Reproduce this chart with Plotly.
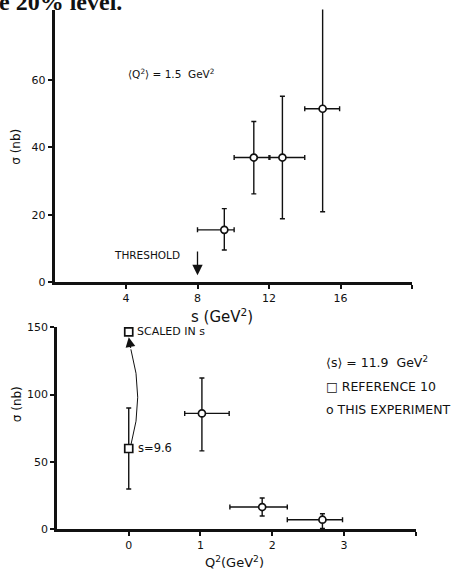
import plotly.graph_objects as go

# ---------------- data ----------------
# top panel: sigma vs s at <Q^2> = 1.5 GeV^2
s_vals = [9.5, 11.15, 12.75, 15.0]
s_sigma = [15.5, 37.0, 37.0, 51.5]
s_sigma_err_plus = [6.3, 10.7, 18.2, 30.5]
s_sigma_err_minus = [6.0, 10.8, 18.2, 30.6]
s_err_minus = [1.5, 1.1, 0.75, 1.0]
s_err_plus = [0.55, 0.9, 1.25, 0.95]
threshold_s = 8.0

# bottom panel: sigma vs Q^2 at <s> = 11.9 GeV^2
q2_vals = [1.02, 1.86, 2.70]
q2_sigma = [86.0, 16.6, 7.2]
q2_sigma_err_plus = [26.3, 6.7, 4.4]
q2_sigma_err_minus = [27.8, 6.7, 6.5]
q2_err_minus = [0.24, 0.45, 0.49]
q2_err_plus = [0.38, 0.35, 0.28]

ref10_q2 = [0.0]
ref10_sigma = [60.0]
ref10_err = [30.0]
ref10_scaled_q2 = [0.0]
ref10_scaled_sigma = [146.5]

top_xticks = [4, 8, 12, 16, 20]
top_xtick_text = ["4", "8", "12", "16", ""]
top_yticks = [0, 20, 40, 60]
bot_xticks = [0, 1, 2, 3, 4]
bot_xtick_text = ["0", "1", "2", "3", ""]
bot_yticks = [0, 50, 100, 150]

FONT = "DejaVu Sans"
BLACK = "#111111"
W, H = 458, 571

# the rendered page is placed ~6.5px down and squeezed vertically by ~0.9755;
# convert a target vertical pixel position into paper coordinates accordingly
OFF, SC = 6.5, 0.9755


def py(pix):
    return 1 - ((pix - OFF) / SC) / H


fig = go.Figure()
err_style = dict(color=BLACK, thickness=1.4, width=2.5)

fig.add_trace(go.Scatter(
    x=s_vals, y=s_sigma, mode="markers", xaxis="x", yaxis="y",
    marker=dict(symbol="circle", size=7, color="white", line=dict(color=BLACK, width=1.7)),
    error_y=dict(type="data", symmetric=False, array=s_sigma_err_plus,
                 arrayminus=s_sigma_err_minus, **err_style),
    error_x=dict(type="data", symmetric=False, array=s_err_plus,
                 arrayminus=s_err_minus, **err_style),
    cliponaxis=False, showlegend=False))

fig.add_trace(go.Scatter(
    x=q2_vals, y=q2_sigma, mode="markers", xaxis="x2", yaxis="y2",
    marker=dict(symbol="circle", size=7, color="white", line=dict(color=BLACK, width=1.7)),
    error_y=dict(type="data", symmetric=False, array=q2_sigma_err_plus,
                 arrayminus=q2_sigma_err_minus, **err_style),
    error_x=dict(type="data", symmetric=False, array=q2_err_plus,
                 arrayminus=q2_err_minus, **err_style),
    cliponaxis=False, showlegend=False))

fig.add_trace(go.Scatter(
    x=ref10_q2, y=ref10_sigma, mode="markers", xaxis="x2", yaxis="y2",
    marker=dict(symbol="square", size=8, color="white", line=dict(color=BLACK, width=1.7)),
    error_y=dict(type="data", array=ref10_err, **err_style),
    cliponaxis=False, showlegend=False))

fig.add_trace(go.Scatter(
    x=ref10_scaled_q2, y=ref10_scaled_sigma, mode="markers", xaxis="x2", yaxis="y2",
    marker=dict(symbol="square", size=8, color="white", line=dict(color=BLACK, width=1.7)),
    cliponaxis=False, showlegend=False))

# curved arrow from the s=9.6 point up to the scaled point
x0, y0 = ref10_q2[0] + 0.03, ref10_sigma[0] + 2.5
x1, y1 = ref10_scaled_q2[0] + 0.03, ref10_scaled_sigma[0] - 13
tipx, tipy = ref10_scaled_q2[0], ref10_scaled_sigma[0] - 4
cx, cy = x0 + 0.19, (y0 + y1) / 2
fig.add_shape(type="path", xref="x2", yref="y2",
              path=f"M {x0},{y0} Q {cx},{cy} {x1},{y1}",
              line=dict(color=BLACK, width=1.0))
fig.add_annotation(x=tipx, y=tipy, ax=x1, ay=y1, xref="x2", yref="y2",
                   axref="x2", ayref="y2", text="", showarrow=True, arrowhead=2,
                   arrowsize=1.5, arrowwidth=1.3, arrowcolor=BLACK)

# threshold arrow
fig.add_annotation(x=threshold_s, y=2, ax=threshold_s, ay=9.5, xref="x", yref="y",
                   axref="x", ayref="y", text="", showarrow=True, arrowhead=2,
                   arrowsize=1.6, arrowwidth=1.3, arrowcolor=BLACK)


def txt(x, y, text, xref, yref, size=11, xanchor="left", yanchor="middle", angle=0,
        family=FONT, color=BLACK):
    fig.add_annotation(x=x, y=y, xref=xref, yref=yref, text=text, showarrow=False,
                       xanchor=xanchor, yanchor=yanchor, textangle=angle,
                       font=dict(family=family, size=size, color=color))


txt(5.15, 8.0, "THRESHOLD", "x", "y", size=10.5, xanchor="center")
txt(4.0, 62.0, "⟨Q<sup>2</sup>⟩ = 1.5  GeV<sup>2</sup>", "x", "y", size=10.5)
txt(0.1, ref10_sigma[0], "s=9.6", "x2", "y2", size=11.5)
txt(0.09, ref10_scaled_sigma[0], "SCALED IN s", "x2", "y2", size=11)

# legend-like block (right of bottom panel)
txt(2.72, 124, "⟨s⟩ = 11.9  GeV<sup>2</sup>", "x2", "y2", size=12.5)
txt(2.72, 106, "□ REFERENCE 10", "x2", "y2", size=12.5)
txt(2.72, 89, "o THIS EXPERIMENT", "x2", "y2", size=12.5)

# axis titles
txt(16 / W, py(147), "σ (nb)", "paper", "paper", size=12, xanchor="center", angle=-90)
txt(17 / W, py(404), "σ (nb)", "paper", "paper", size=12, xanchor="center", angle=-90)
txt(222 / W, py(316), "s (GeV<sup>2</sup>)", "paper", "paper", size=15, xanchor="center")
txt(234 / W, py(562), "Q<sup>2</sup>(GeV<sup>2</sup>)", "paper", "paper", size=13, xanchor="center")

# cropped page text at the very top
txt(-3 / W, py(3), "<b>e 20% level.</b>", "paper", "paper", size=24, yanchor="middle",
    family="Liberation Serif")

axis_common = dict(showline=True, linecolor=BLACK, linewidth=2.5, ticks="outside",
                   ticklen=4, tickwidth=1.5, tickcolor=BLACK, showgrid=False,
                   zeroline=False, tickfont=dict(family=FONT, size=11, color=BLACK),
                   mirror=False)

fig.update_layout(
    width=W, height=H,
    margin=dict(l=0, r=0, t=0, b=0),
    paper_bgcolor="white", plot_bgcolor="white",
    xaxis=dict(domain=[54.5 / W, 412 / W], range=[0, 20], tickvals=top_xticks,
               ticktext=top_xtick_text, anchor="y", **axis_common),
    yaxis=dict(domain=[py(282), py(10)], range=[0, 81], tickvals=top_yticks,
               anchor="x", **axis_common),
    xaxis2=dict(domain=[57 / W, 415.7 / W], range=[-1, 4], tickvals=bot_xticks,
                ticktext=bot_xtick_text, anchor="y2", **axis_common),
    yaxis2=dict(domain=[py(529), py(327)], range=[0, 150], tickvals=bot_yticks,
                anchor="x2", **axis_common),
    showlegend=False,
)

fig.write_html("out.html", config={"displayModeBar": False},
               post_script="document.body.style.margin='0';document.body.style.overflow='hidden';")
